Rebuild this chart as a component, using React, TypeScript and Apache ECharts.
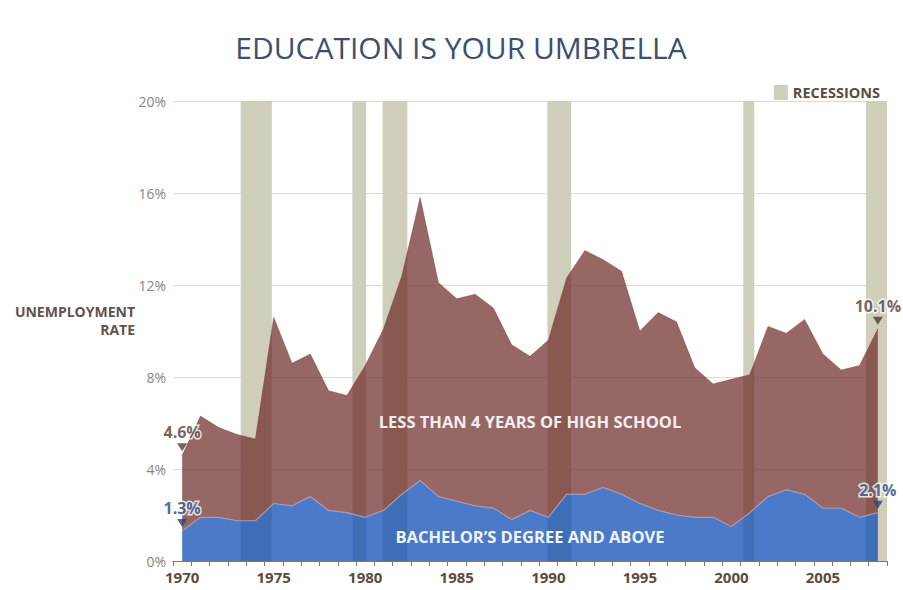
import React, { useEffect, useRef } from "react";
import * as echarts from "echarts";

// Years (annual averages, plotted at mid-year)
const years: number[] = [
  1970, 1971, 1972, 1973, 1974, 1975, 1976, 1977, 1978, 1979,
  1980, 1981, 1982, 1983, 1984, 1985, 1986, 1987, 1988, 1989,
  1990, 1991, 1992, 1993, 1994, 1995, 1996, 1997, 1998, 1999,
  2000, 2001, 2002, 2003, 2004, 2005, 2006, 2007, 2008,
];

// Unemployment rate, less than 4 years of high school (%)
const lessThanHighSchool: number[] = [
  4.6, 6.3, 5.8, 5.5, 5.3, 10.6, 8.6, 9.0, 7.4, 7.2,
  8.5, 10.1, 12.4, 15.8, 12.1, 11.4, 11.6, 11.0, 9.4, 8.9,
  9.6, 12.3, 13.5, 13.1, 12.6, 10.0, 10.8, 10.4, 8.4, 7.7,
  7.9, 8.1, 10.2, 9.9, 10.5, 9.0, 8.3, 8.5, 10.1,
];

// Unemployment rate, bachelor's degree and above (%)
const bachelorAndAbove: number[] = [
  1.3, 1.9, 1.9, 1.75, 1.75, 2.5, 2.4, 2.8, 2.2, 2.1,
  1.9, 2.2, 2.9, 3.5, 2.8, 2.6, 2.4, 2.3, 1.8, 2.2,
  1.9, 2.9, 2.9, 3.2, 2.9, 2.5, 2.2, 2.0, 1.9, 1.9,
  1.5, 2.1, 2.8, 3.1, 2.9, 2.3, 2.3, 1.9, 2.1,
];

// Recession periods (decimal years)
const recessionStarts: number[] = [1973.7, 1979.8, 1981.45, 1990.45, 2001.15, 2007.85];
const recessionEnds: number[] = [1975.4, 1980.55, 1982.8, 1991.75, 2001.75, 2009.0];

// Y-axis
const yMin = 0;
const yMax = 20;
const yStep = 4;

const TITLE = "EDUCATION IS YOUR UMBRELLA";
const LABEL_LESS = "LESS THAN 4 YEARS OF HIGH SCHOOL";
const LABEL_BACH = "BACHELOR\u2019S DEGREE AND ABOVE";
const LEGEND_NAME = "RECESSIONS";

const FONT = "'Open Sans', 'DejaVu Sans', sans-serif";

export default function App() {
  const ref = useRef<HTMLDivElement>(null);

  useEffect(() => {
    if (!ref.current) return;
    const chart = echarts.init(ref.current, undefined, { renderer: "svg" });

    const mid = (y: number) => y + 0.5;
    const lessIncrement = lessThanHighSchool.map((v, i) => +(v - bachelorAndAbove[i]).toFixed(2));
    const last = years.length - 1;

    const brownText = "#4f3b38";
    const blueText = "#27457a";

    const annotations = [
      { value: [mid(years[0]), lessThanHighSchool[0]], c: brownText },
      { value: [mid(years[0]), bachelorAndAbove[0]], c: blueText },
      { value: [mid(years[last]), lessThanHighSchool[last]], c: brownText },
      { value: [mid(years[last]), bachelorAndAbove[last]], c: blueText },
    ].map((a) => ({
      value: a.value,
      itemStyle: { color: a.c },
      label: { color: a.c },
    }));

    chart.setOption({
      animation: false,
      backgroundColor: "#ffffff",
      textStyle: { fontFamily: FONT },
      grid: { left: 173, right: 16, top: 101, bottom: 29, containLabel: false },
      legend: {
        data: [{ name: LEGEND_NAME, icon: "rect" }],
        right: 18,
        top: 80,
        itemWidth: 14,
        itemHeight: 15,
        itemGap: 6,
        textStyle: { color: "#5a4c42", fontSize: 14.5, fontWeight: "bold", fontFamily: FONT },
        selectedMode: false,
      },
      xAxis: [
        {
          type: "category",
          data: years.map(String),
          boundaryGap: true,
          position: "bottom",
          axisLine: { show: true, lineStyle: { color: "#7d7770", width: 1 } },
          axisTick: { show: true, interval: 0, length: 5, lineStyle: { color: "#7d7770" } },
          axisLabel: {
            interval: 4,
            color: "#5c4a3e",
            fontSize: 15,
            fontWeight: "bold",
            margin: 8,
            fontFamily: FONT,
          },
          splitLine: { show: false },
        },
        {
          type: "value",
          min: years[0],
          max: years[last] + 1,
          show: false,
          splitLine: { show: false },
        },
      ],
      yAxis: {
        type: "value",
        min: yMin,
        max: yMax,
        interval: yStep,
        axisLine: { show: false },
        axisTick: { show: false },
        axisLabel: {
          formatter: "{value}%",
          color: "#8a8580",
          fontSize: 14,
          margin: 7,
          fontFamily: FONT,
        },
        splitLine: { show: true, lineStyle: { color: "#dedbd6", width: 1 } },
      },
      series: [
        {
          name: LEGEND_NAME,
          type: "line",
          xAxisIndex: 1,
          data: [],
          itemStyle: { color: "#cfcebb" },
          markArea: {
            silent: true,
            itemStyle: { color: "#cfcebb", opacity: 1 },
            data: recessionStarts.map((s, i) => [{ xAxis: s }, { xAxis: recessionEnds[i] }]),
          },
        },
        {
          name: "Bachelor's degree and above",
          type: "line",
          xAxisIndex: 0,
          stack: "edu",
          data: bachelorAndAbove,
          showSymbol: false,
          symbol: "none",
          lineStyle: { color: "rgba(205,150,150,0.85)", width: 1.2 },
          areaStyle: { color: "rgba(14,78,182,0.75)", opacity: 1 },
          z: 3,
        },
        {
          name: "Less than 4 years of high school",
          type: "line",
          xAxisIndex: 0,
          stack: "edu",
          data: lessIncrement,
          showSymbol: false,
          symbol: "none",
          lineStyle: { width: 0.5, color: "rgba(110,44,40,0.72)" },
          areaStyle: { color: "rgba(110,44,40,0.72)", opacity: 1 },
          z: 2,
        },
        {
          name: "annotations",
          type: "scatter",
          xAxisIndex: 1,
          data: annotations,
          symbol: "triangle",
          symbolRotate: 180,
          symbolSize: [10, 8],
          symbolOffset: [0, -8],
          z: 5,
          silent: true,
          label: {
            show: true,
            position: "top",
            distance: 3,
            fontSize: 16,
            fontWeight: "bold",
            fontFamily: FONT,
            textBorderColor: "#ffffff",
            textBorderWidth: 3,
            formatter: (p: any) => p.value[1].toFixed(1) + "%",
          },
        },
      ],
      graphic: [
        {
          type: "text",
          x: 461,
          y: 47,
          style: {
            text: TITLE,
            fill: "#3b4f75",
            font: `normal 30px ${FONT}`,
            textAlign: "center",
            textVerticalAlign: "middle",
          },
        },
        {
          type: "text",
          x: 135,
          y: 311,
          style: {
            text: "UNEMPLOYMENT",
            fill: "#5e544c",
            font: `bold 14px ${FONT}`,
            textAlign: "right",
            textVerticalAlign: "middle",
          },
        },
        {
          type: "text",
          x: 135,
          y: 329,
          style: {
            text: "RATE",
            fill: "#5e544c",
            font: `bold 14px ${FONT}`,
            textAlign: "right",
            textVerticalAlign: "middle",
          },
        },
        {
          type: "text",
          x: 530,
          y: 421,
          z: 10,
          style: {
            text: LABEL_LESS,
            fill: "#f4eeee",
            font: `bold 16.5px ${FONT}`,
            textAlign: "center",
            textVerticalAlign: "middle",
          },
        },
        {
          type: "text",
          x: 530,
          y: 536,
          z: 10,
          style: {
            text: LABEL_BACH,
            fill: "#f2f4fa",
            font: `bold 16.5px ${FONT}`,
            textAlign: "center",
            textVerticalAlign: "middle",
          },
        },
      ],
    });

    return () => {
      chart.dispose();
    };
  }, []);

  return (
    <div
      ref={ref}
      style={{ position: "fixed", left: 0, top: 0, width: 903, height: 590, background: "#fff" }}
    />
  );
}
